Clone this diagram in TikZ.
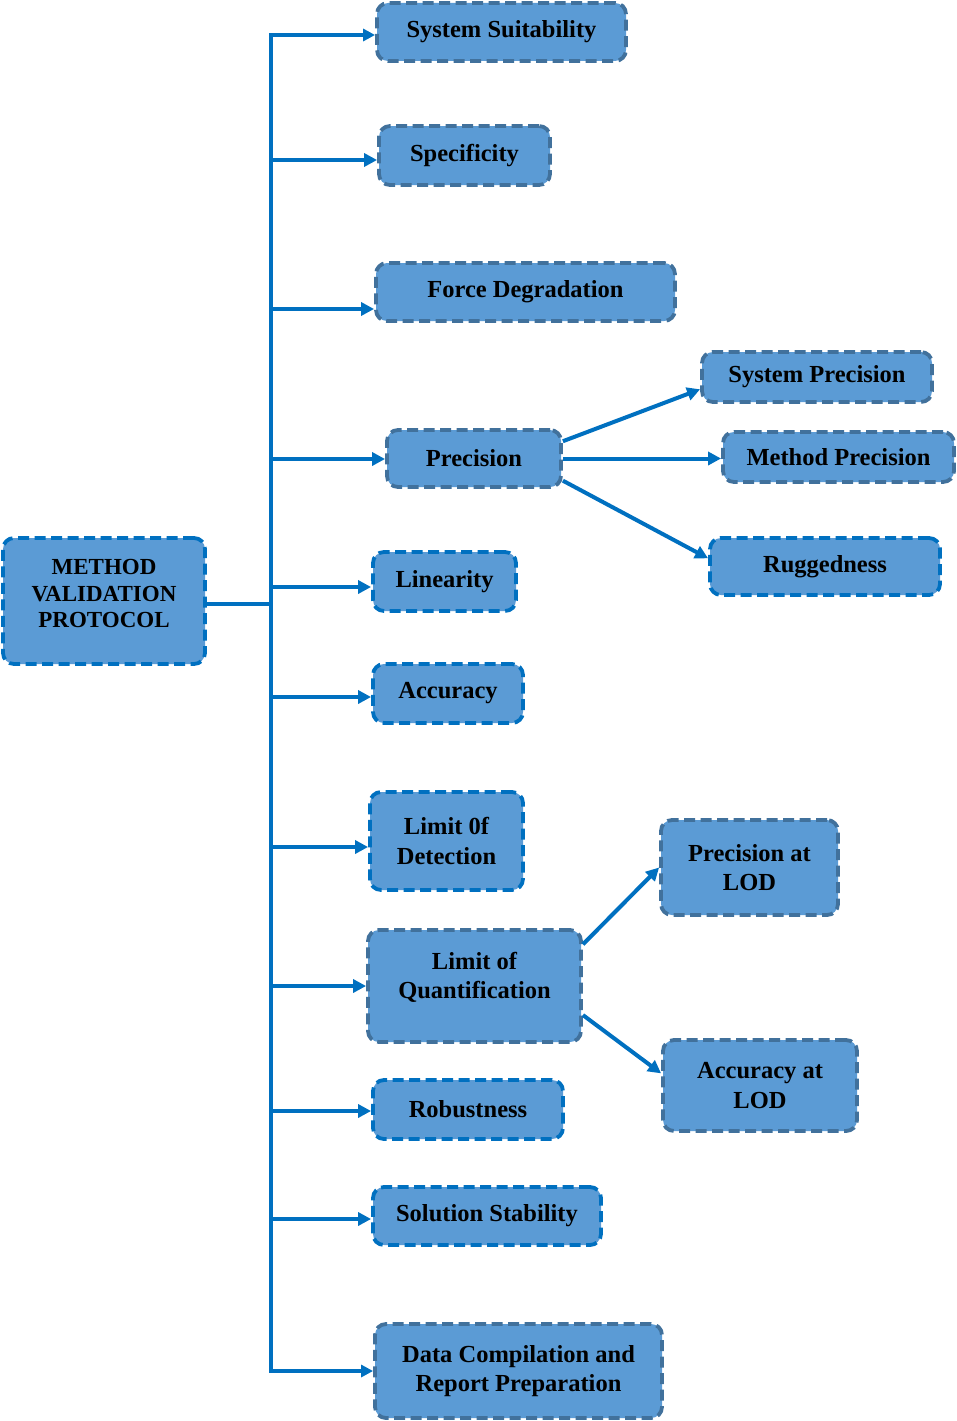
\documentclass[tikz,border=0pt]{standalone}
\usepackage{fontspec}
\setmainfont{Liberation Serif}
\usetikzlibrary{arrows.meta}
\definecolor{boxfill}{HTML}{5B9BD5}
\definecolor{darkedge}{HTML}{41719C}
\definecolor{brightedge}{HTML}{0070C0}
\definecolor{linecol}{HTML}{0070C0}
\tikzset{
  box/.style={fill=boxfill, line width=3.8pt, dash pattern=on 11pt off 5.5pt,
    rounded corners=11pt, align=center, inner sep=0pt, text=black,
    font=\bfseries\fontsize{24.5}{29.5}\selectfont},
  darkbox/.style={box, draw=darkedge},
  brightbox/.style={box, draw=brightedge},
  conn/.style={draw=linecol, line width=4pt},
  tip/.style={},
  arr/.style={conn, -{Triangle[length=13pt,width=13pt]}},
  darr/.style={conn, line width=4.5pt, {Triangle[length=12pt,width=12pt]}-{Triangle[length=12pt,width=12pt]}},
}
\begin{document}
\begin{tikzpicture}[x=1pt,y=-1pt]
\useasboundingbox (0,0) rectangle (956,1421);
% nodes
\node[brightbox, minimum width=202pt, minimum height=126pt, font=\bfseries\fontsize{23}{26.5}\selectfont] (mvp) at (104,601) {METHOD\\VALIDATION\\PROTOCOL\\[-12pt]};
\node[darkbox, minimum width=249pt, minimum height=58pt] (ss) at (501.5,32) {System Suitability};
\node[darkbox, minimum width=171pt, minimum height=59pt] (spec) at (464.5,155.5) {Specificity};
\node[darkbox, minimum width=299pt, minimum height=58pt] (fd) at (525.5,292) {Force Degradation};
\node[darkbox, minimum width=174pt, minimum height=57pt] (prec) at (474,458.5) {Precision};
\node[darkbox, minimum width=230pt, minimum height=50pt] (sp) at (817,377) {System Precision};
\node[darkbox, minimum width=231pt, minimum height=50pt] (mp) at (838.5,457) {Method Precision};
\node[brightbox, minimum width=230pt, minimum height=57pt] (rug) at (825,566.5) {Ruggedness};
\node[brightbox, minimum width=143pt, minimum height=59pt] (lin) at (444.5,581.5) {Linearity};
\node[brightbox, minimum width=150pt, minimum height=59pt] (acc) at (448,693.5) {Accuracy};
\node[brightbox, minimum width=153pt, minimum height=98pt] (lod) at (446.5,841) {Limit 0f\\Detection};
\node[darkbox, minimum width=177pt, minimum height=95pt] (plod) at (749.5,867.5) {Precision at\\LOD};
\node[darkbox, minimum width=213pt, minimum height=112pt] (loq) at (474.5,986) {Limit of\\Quantification\\[-8.5pt]};
\node[darkbox, minimum width=194pt, minimum height=91pt] (alod) at (760,1085.5) {Accuracy at\\LOD};
\node[brightbox, minimum width=190pt, minimum height=59pt] (rob) at (468,1109.5) {Robustness};
\node[brightbox, minimum width=228pt, minimum height=58pt] (sol) at (487,1216) {Solution Stability};
\node[darkbox, minimum width=287pt, minimum height=94pt] (data) at (518.5,1371) {Data Compilation and\\Report Preparation};
% trunk coordinates
\coordinate (ttop) at (271,35);
\coordinate (t2) at (271,160);
\coordinate (t3) at (271,309);
\coordinate (t4) at (271,459);
\coordinate (t5) at (271,587);
\coordinate (tm) at (269,604);
\coordinate (t6) at (271,697);
\coordinate (t7) at (271,847);
\coordinate (t8) at (271,986);
\coordinate (t9) at (271,1111);
\coordinate (t10) at (271,1219);
\coordinate (tbot) at (271,1371);
% trunk with first and last branches
\draw[darr] (ss.west |- ttop) -- (ttop) -- (tbot) -- (data.west |- tbot);
\draw[conn] (mvp.east |- tm) -- (tm);
\draw[arr] (t2) -- (spec.west |- t2);
\draw[arr] (t3) -- (fd.west |- t3);
\draw[arr] (t4) -- (prec.west |- t4);
\draw[arr] (t5) -- (lin.west |- t5);
\draw[arr] (t6) -- (acc.west |- t6);
\draw[arr] (t7) -- (lod.west |- t7);
\draw[arr] (t8) -- (loq.west |- t8);
\draw[arr] (t9) -- (rob.west |- t9);
\draw[arr] (t10) -- (sol.west |- t10);
% sub-branches
\draw[arr] (prec.11) -- (sp.186);
\draw[arr] (prec.east) -- (prec.east -| mp.west);
\draw[arr] (prec.-14) -- (rug.176);
\draw[arr] (loq.21.5) -- (plod.west);
\draw[arr] (loq.-15) -- (alod.173);
\end{tikzpicture}
\end{document}
